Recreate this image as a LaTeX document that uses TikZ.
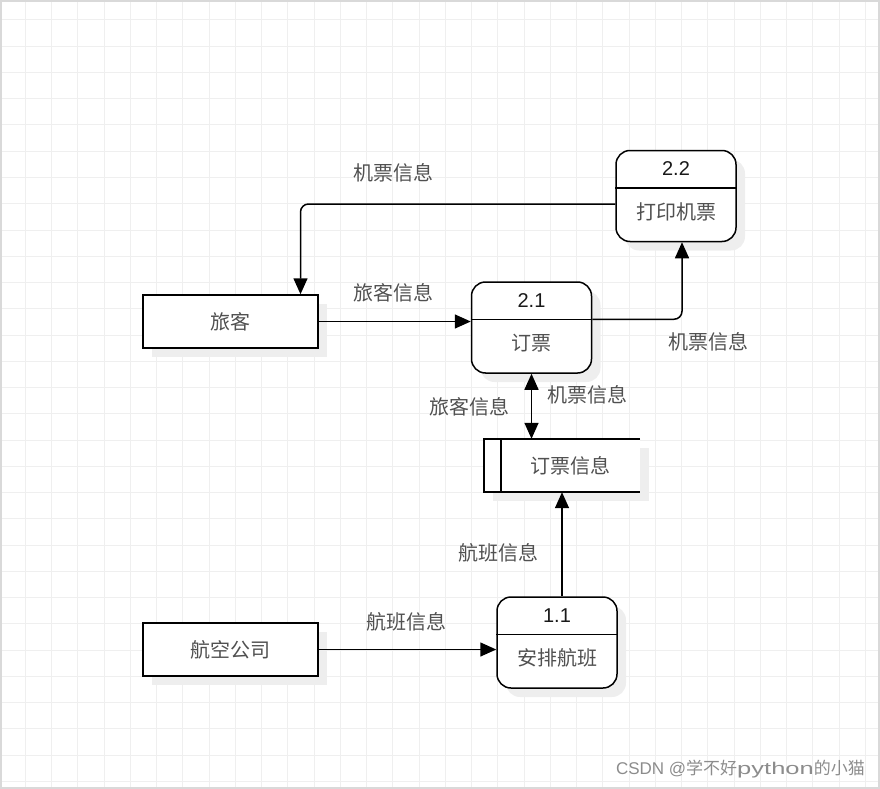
\documentclass[tikz,border=0pt]{standalone}
\usepackage{fontspec}
\setmainfont{Liberation Sans}
\newfontfamily\cjk{Noto Sans CJK SC}
\usetikzlibrary{arrows.meta,shadows,calc}
\definecolor{gridc}{HTML}{EFEFEF}
\definecolor{bordc}{HTML}{D9D9D9}
\definecolor{txt}{HTML}{505050}
\definecolor{shdc}{HTML}{EEEEEE}
\definecolor{wmc}{HTML}{8C8C8C}
\begin{document}
\begin{tikzpicture}[x=1pt,y=-1pt,
  shd/.style={drop shadow={shadow xshift=9pt,shadow yshift=-9pt,fill=shdc,opacity=1}},
  entity/.style={draw,line width=1.5pt,fill=white,minimum width=175pt,minimum height=53pt,inner sep=0pt,font=\cjk\fontsize{20}{20}\selectfont,text=txt,shd},
  proc/.style={draw,line width=1.5pt,fill=white,rounded corners=14pt,minimum width=120pt,minimum height=91pt,inner sep=0pt,shd},
  storebox/.style={fill=white,minimum width=156pt,minimum height=53pt,inner sep=0pt,shd},
  numtxt/.style={font=\fontsize{20}{20}\selectfont,text=black!90,inner sep=0pt},
  cjktxt/.style={font=\cjk\fontsize{20}{20}\selectfont,text=txt,inner sep=0pt},
  edge/.style={line width=1.5pt,rounded corners=8pt,-{Triangle[length=16pt,width=14pt]}},
  dedge/.style={line width=1.5pt,{Triangle[length=16pt,width=14pt]}-{Triangle[length=16pt,width=14pt]}},
  divline/.style={line width=1.5pt}
]
\useasboundingbox (0,0) rectangle (880,789);
% grid
\foreach \i in {0,...,32} \draw[gridc,line width=1pt] ({25.3+26.25*\i},0) -- ({25.3+26.25*\i},789);
\foreach \j in {0,...,29} \draw[gridc,line width=1pt] (0,{20+26.25*\j}) -- (880,{20+26.25*\j});
\draw[bordc,line width=1.2pt] (1,1) rectangle (879,788);

% external entities
\node[entity] (lvke) at (230.5,321.5) {旅客};
\node[entity] (hkgs) at (230.5,649.5) {航空公司};

% processes
\node[proc] (p21) at (531.5,327.5) {};
\node[proc] (p22) at (676,196) {};
\node[proc] (p11) at (557,642.5) {};
\foreach \p/\n/\t in {p21/2.1/订票, p22/2.2/打印机票, p11/1.1/安排航班}{
  \coordinate (\p d) at ($(\p.north)+(0,38)$);
  \draw[divline] (\p.west |- \p d) -- (\p.east |- \p d);
  \node[numtxt] (\p n) at ($(\p.north)+(0,19)$) {\n};
  \node[cjktxt] (\p t) at ($(\p.north)+(0,62)$) {\t};
}

% data store
\node[storebox] (store) at (562,465.5) {};
\draw[line width=1.5pt] (store.north east) -- (store.north west) -- (store.south west) -- (store.south east);
\coordinate (storei) at ($(store.west)+(17,0)$);
\draw[line width=1.5pt] (storei |- store.north) -- (storei |- store.south);
\node[cjktxt] (storet) at ($(store)+(8,0)$) {订票信息};

% flows
\draw[edge] (lvke.east) -- (lvke.east -| p21.west);
\coordinate (p22in) at ($(p22.south)+(6,0)$);
\draw[edge] (p21.east |- p21d) -| (p22in);
\coordinate (p22out) at ($(p22.west)+(0,8)$);
\coordinate (lvkein) at ($(lvke.north)+(70,0)$);
\draw[edge] (p22out) -| (lvkein);
\draw[dedge] (p21.south) -- (p21.south |- store.north);
\draw[edge] (store.south |- p11.north) -- (store.south);
\draw[edge] (hkgs.east) -- (hkgs.east -| p11.west);

% flow labels
\node[cjktxt] (l1) at (393,293) {旅客信息};
\node[cjktxt] (l2) at (708,342) {机票信息};
\node[cjktxt] (l3) at (393,173) {机票信息};
\node[cjktxt] (l4) at (469,407) {旅客信息};
\node[cjktxt] (l5) at (587,395) {机票信息};
\node[cjktxt] (l6) at (498,553) {航班信息};
\node[cjktxt] (l7) at (406,622) {航班信息};

% watermark
\node[anchor=east,inner sep=0pt,text=wmc,font=\fontsize{17}{17}\selectfont] (wm) at (865,769) {CSDN @{\cjk 学不好}\scalebox{1.5}[1]{python}{\cjk 的小猫}};
\end{tikzpicture}
\end{document}
